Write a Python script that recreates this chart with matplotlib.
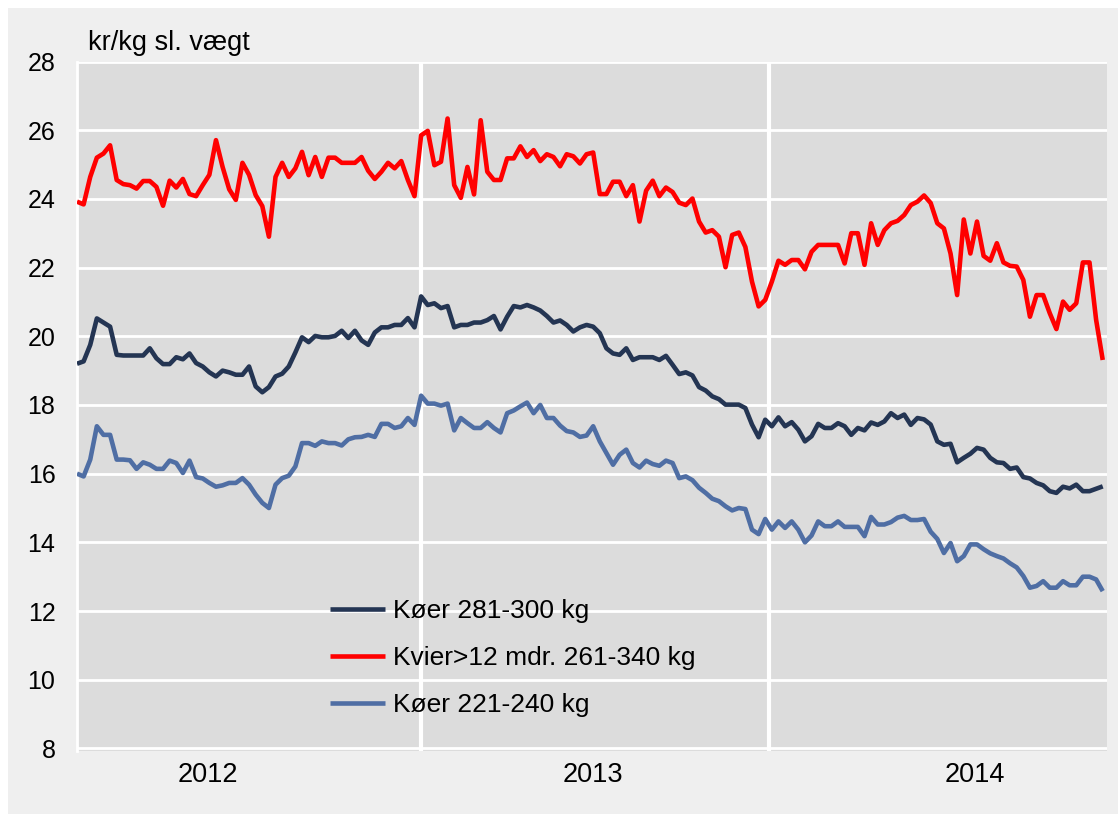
import matplotlib
matplotlib.use("Agg")
import matplotlib.pyplot as plt
from matplotlib.patches import Rectangle
import numpy as np

plt.rcParams['font.family'] = ['Liberation Sans', 'DejaVu Sans']

# ---- data (weekly prices, kr/kg slagtevægt) ----
labels = ["Køer 281-300 kg", "Kvier>12 mdr. 261-340 kg", "Køer 221-240 kg"]
colors = ["#243553", "#FF0000", "#4F6EA4"]
years = ["2012", "2013", "2014"]
year_label_pos = [19.8, 78.0, 135.7]
year_boundaries = [52.0, 104.55]
yticks = [8, 10, 12, 14, 16, 18, 20, 22, 24, 26, 28]

koer_281_300 = [
    19.2, 19.27, 19.75, 20.52, 20.4, 20.28, 19.46, 19.44, 19.44, 19.44,
    19.44, 19.65, 19.36, 19.19, 19.19, 19.39, 19.33, 19.5, 19.22, 19.12,
    18.95, 18.83, 19.0, 18.95, 18.88, 18.88, 19.12, 18.54, 18.37, 18.52,
    18.83, 18.91, 19.12, 19.53, 19.97, 19.83, 20.01, 19.97, 19.97, 20.01,
    20.16, 19.95, 20.16, 19.88, 19.75, 20.11, 20.26, 20.26, 20.33, 20.33,
    20.53, 20.26, 21.16, 20.91, 20.96, 20.82, 20.88, 20.26, 20.33, 20.33,
    20.4, 20.4, 20.47, 20.59, 20.2, 20.57, 20.88, 20.84, 20.91, 20.84,
    20.75, 20.59, 20.4, 20.46, 20.33, 20.14, 20.26, 20.33, 20.28, 20.09,
    19.65, 19.5, 19.46, 19.65, 19.31, 19.39, 19.39, 19.39, 19.31, 19.43,
    19.17, 18.9, 18.95, 18.86, 18.52, 18.42, 18.25, 18.17, 18.01, 18.01,
    18.01, 17.91, 17.43, 17.06, 17.57, 17.38, 17.64, 17.38, 17.5, 17.28,
    16.94, 17.09, 17.45, 17.33, 17.33, 17.47, 17.38, 17.13, 17.33, 17.26,
    17.49, 17.42, 17.52, 17.76, 17.62, 17.72, 17.42, 17.62, 17.58, 17.43,
    16.94, 16.84, 16.87, 16.33, 16.46, 16.58, 16.75, 16.7, 16.46, 16.33,
    16.31, 16.14, 16.18, 15.9, 15.86, 15.73, 15.66, 15.49, 15.44, 15.62,
    15.57, 15.68, 15.49, 15.49, 15.56, 15.63,
]

kvier_261_340 = [
    23.92, 23.84, 24.64, 25.2, 25.32, 25.56, 24.55, 24.43, 24.4, 24.3,
    24.52, 24.52, 24.35, 23.8, 24.53, 24.33, 24.58, 24.14, 24.08, 24.4,
    24.7, 25.71, 24.93, 24.28, 23.97, 25.05, 24.7, 24.11, 23.79, 22.9,
    24.64, 25.05, 24.64, 24.89, 25.37, 24.69, 25.22, 24.64, 25.2, 25.2,
    25.05, 25.05, 25.05, 25.22, 24.82, 24.58, 24.79, 25.05, 24.89, 25.1,
    24.55, 24.08, 25.85, 25.98, 24.98, 25.08, 26.34, 24.4, 24.03, 24.93,
    24.13, 26.29, 24.79, 24.55, 24.55, 25.18, 25.18, 25.53, 25.22, 25.42,
    25.1, 25.3, 25.22, 24.95, 25.3, 25.24, 25.03, 25.3, 25.35, 24.14,
    24.14, 24.5, 24.5, 24.08, 24.4, 23.34, 24.24, 24.53, 24.08, 24.33,
    24.2, 23.89, 23.82, 24.01, 23.34, 23.02, 23.09, 22.9, 22.01, 22.95,
    23.02, 22.6, 21.59, 20.87, 21.06, 21.59, 22.2, 22.08, 22.22, 22.22,
    21.95, 22.46, 22.66, 22.66, 22.66, 22.66, 22.12, 23.0, 23.0, 22.08,
    23.29, 22.66, 23.09, 23.29, 23.36, 23.53, 23.82, 23.92, 24.1, 23.88,
    23.29, 23.14, 22.41, 21.2, 23.4, 22.41, 23.34, 22.34, 22.2, 22.71,
    22.15, 22.05, 22.03, 21.64, 20.57, 21.2, 21.2, 20.67, 20.21, 21.01,
    20.77, 20.96, 22.15, 22.15, 20.48, 19.31,
]

koer_221_240 = [
    16.0, 15.92, 16.41, 17.38, 17.13, 17.13, 16.41, 16.41, 16.39, 16.14,
    16.33, 16.26, 16.14, 16.14, 16.38, 16.31, 16.02, 16.38, 15.9, 15.86,
    15.73, 15.62, 15.66, 15.73, 15.73, 15.87, 15.68, 15.39, 15.15, 15.0,
    15.68, 15.87, 15.94, 16.21, 16.89, 16.89, 16.81, 16.94, 16.89, 16.89,
    16.82, 17.0, 17.06, 17.07, 17.13, 17.07, 17.45, 17.45, 17.33, 17.38,
    17.62, 17.42, 18.27, 18.04, 18.04, 17.98, 18.04, 17.26, 17.62, 17.47,
    17.33, 17.33, 17.5, 17.33, 17.2, 17.76, 17.84, 17.96, 18.07, 17.76,
    18.0, 17.62, 17.62, 17.4, 17.24, 17.2, 17.07, 17.11, 17.38, 16.94,
    16.6, 16.26, 16.55, 16.7, 16.31, 16.18, 16.38, 16.28, 16.23, 16.38,
    16.31, 15.87, 15.92, 15.81, 15.59, 15.44, 15.27, 15.2, 15.05, 14.93,
    15.0, 14.97, 14.37, 14.24, 14.68, 14.37, 14.61, 14.42, 14.61, 14.37,
    14.0, 14.2, 14.61, 14.47, 14.47, 14.61, 14.45, 14.45, 14.45, 14.18,
    14.74, 14.52, 14.52, 14.59, 14.72, 14.77, 14.65, 14.65, 14.68, 14.31,
    14.1, 13.69, 13.98, 13.45, 13.6, 13.94, 13.94, 13.8, 13.68, 13.6,
    13.53, 13.39, 13.27, 13.02, 12.68, 12.73, 12.87, 12.68, 12.68, 12.87,
    12.75, 12.75, 13.0, 13.0, 12.92, 12.58,
]

series = [koer_281_300, kvier_261_340, koer_221_240]

# ---- figure ----
W, H = 1118, 814
fig = plt.figure(figsize=(W / 100, H / 100), dpi=100)
fig.patch.set_facecolor("white")
fig.patches.append(Rectangle((8 / W, 0), 1, (H - 8) / H, transform=fig.transFigure,
                             facecolor="#EFEFEF", edgecolor="none", zorder=-10))

left, right, top, bottom = 77, 1106.7, 61.5, 750.5
ax = fig.add_axes([left / W, 1 - bottom / H, (right - left) / W, (bottom - top) / H])
ax.set_facecolor("#DCDCDC")

for vals, lab, col in zip(series, labels, colors):
    ax.plot(np.arange(len(vals)), vals, color=col, lw=3.3, label=lab,
            solid_joinstyle="round", solid_capstyle="butt", zorder=3)

ax.set_xlim(0, 155.6)
ax.set_ylim(7.94, 28.0)
ax.set_yticks(yticks)
ax.set_yticklabels([str(t) for t in yticks], fontsize=18)
ax.set_xticks([])
ax.tick_params(axis="y", length=0, pad=15.5)
ax.grid(axis="y", color="white", lw=2.0, zorder=1)
ax.set_axisbelow(True)
for xb in year_boundaries:
    ax.axvline(xb, color="white", lw=3.0, zorder=2)

for sp in ["top", "right", "bottom"]:
    ax.spines[sp].set_visible(False)
ax.spines["left"].set_color("white")
ax.spines["left"].set_linewidth(2.0)

for yl, xp in zip(years, year_label_pos):
    ax.text(xp, -0.016, yl, transform=ax.get_xaxis_transform(), ha="center",
            va="top", fontsize=19.5)

fig.text(88 / W, 1 - 50 / H, "kr/kg sl. vægt", fontsize=19.5, ha="left", va="baseline")

leg = ax.legend(loc="upper left", bbox_to_anchor=((330 - left) / (right - left), 1 - (599 - top) / (bottom - top)),
                frameon=False, fontsize=19, handlelength=2.1, handletextpad=0.28,
                labelspacing=0.88, borderpad=0, borderaxespad=0)
for h in leg.get_lines():
    h.set_linewidth(3.3)

fig.savefig("out.png", dpi=100, facecolor=fig.get_facecolor())
